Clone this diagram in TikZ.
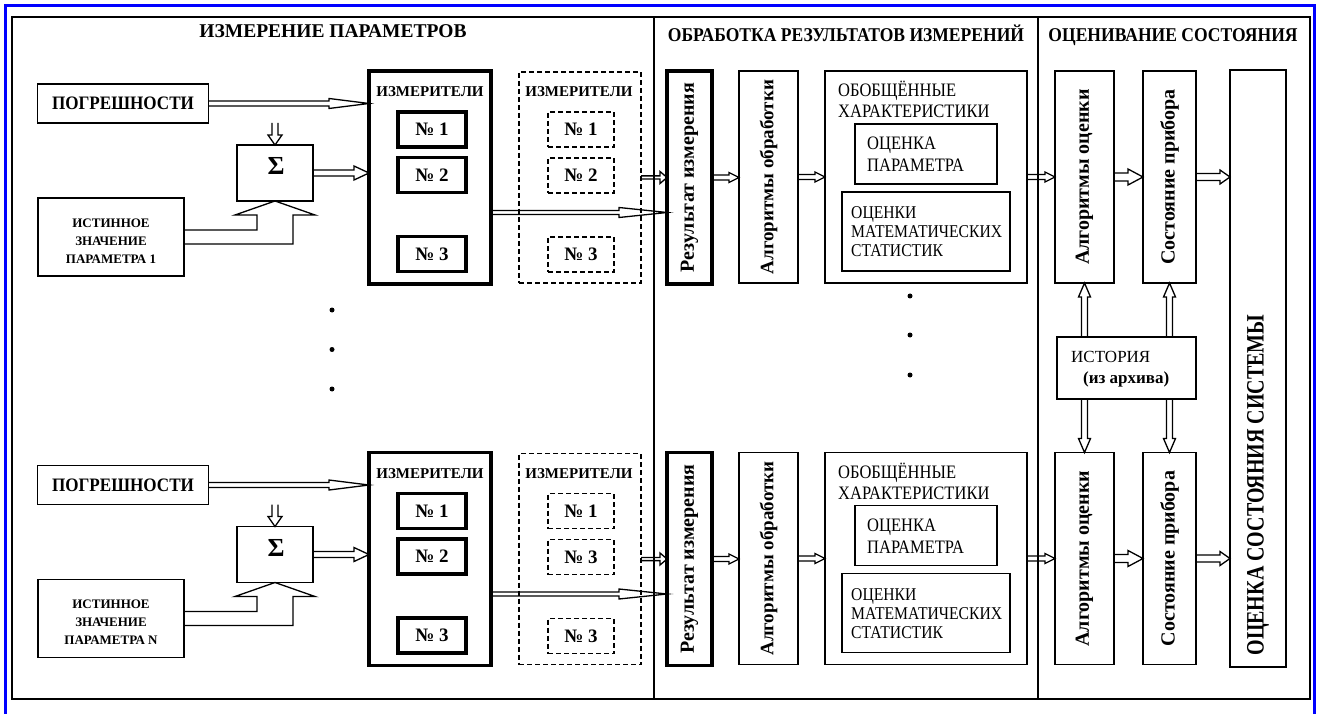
\documentclass[tikz,border=0pt]{standalone}
\usepackage{fontspec}
\setmainfont{Liberation Serif}
\newfontfamily\condA[FakeStretch=0.9]{Liberation Serif}
\newfontfamily\condB[FakeStretch=0.87]{Liberation Serif}
\newfontfamily\condC[FakeStretch=0.8]{Liberation Serif}
\usetikzlibrary{calc}

\newcommand\fTitA{\bfseries\fontsize{19.5}{22}\selectfont}
\newcommand\fTitB{\condA\bfseries\fontsize{19.5}{22}\selectfont}
\newcommand\fPog{\condA\bfseries\fontsize{19}{22}\selectfont}
\newcommand\fIst{\bfseries\fontsize{13}{18}\selectfont}
\newcommand\fIzm{\bfseries\fontsize{15}{18}\selectfont}
\newcommand\fNum{\bfseries\fontsize{19}{22}\selectfont}
\newcommand\fSig{\bfseries\fontsize{26}{30}\selectfont}
\newcommand\fReg{\condB\fontsize{19}{22}\selectfont}
\newcommand\fRegS{\condB\fontsize{18}{19}\selectfont}
\newcommand\fVert{\bfseries\fontsize{20}{24}\selectfont}
\newcommand\fVertS{\bfseries\fontsize{19}{24}\selectfont}
\newcommand\fSys{\condC\bfseries\fontsize{25}{28}\selectfont}
\newcommand\fHist{\fontsize{17}{20}\selectfont}
\newcommand\fHistB{\bfseries\fontsize{17}{20}\selectfont}

\tikzset{
  box/.style={draw, rectangle, line width=1.7pt, inner sep=0pt, outer sep=0pt},
  tbox/.style={box, line width=3.4pt},
  dbox/.style={box, dash pattern=on 5pt off 3pt},
  arr/.style={draw, line width=1.3pt, line join=miter},
  vtext/.style={rotate=90, font=\fVert, inner sep=0pt},
  lbl/.style={inner sep=0pt},
  lblw/.style={inner sep=0pt, anchor=base west},
  dot/.style={circle, fill, inner sep=0pt, minimum size=5pt},
}

% hollow arrows: from #1 to #2, shaft half-width #3, head half-width #4, head length #5
\newcommand\arR[5]{\draw[arr] let \p1=(#1), \p2=(#2) in
  (\x1,\y1+#3) -- (\x2-#5,\y1+#3) -- (\x2-#5,\y1+#4) -- (\x2,\y1)
  -- (\x2-#5,\y1-#4) -- (\x2-#5,\y1-#3) -- (\x1,\y1-#3);}
\newcommand\arD[5]{\draw[arr] let \p1=(#1), \p2=(#2) in
  (\x1-#3,\y1) -- (\x1-#3,\y2+#5) -- (\x1-#4,\y2+#5) -- (\x1,\y2)
  -- (\x1+#4,\y2+#5) -- (\x1+#3,\y2+#5) -- (\x1+#3,\y1);}
\newcommand\arU[5]{\draw[arr] let \p1=(#1), \p2=(#2) in
  (\x1-#3,\y1) -- (\x1-#3,\y2-#5) -- (\x1-#4,\y2-#5) -- (\x1,\y2)
  -- (\x1+#4,\y2-#5) -- (\x1+#3,\y2-#5) -- (\x1+#3,\y1);}

% left block: #1 suffix, #2 y offset, #3 parameter label, #4 middle dashed label
\newcommand\measrow[4]{%
  \node[box, minimum width=171pt, minimum height=39pt, font=\fPog] (pog#1) at (123,{103.5+#2}) {ПОГРЕШНОСТИ};
  \node[box, minimum width=76pt, minimum height=56pt] (sig#1) at (275,{173+#2}) {};
  \node[lbl, font=\fSig] (sigt#1) at (276,{166+#2}) {Σ};
  \node[box, minimum width=146pt, minimum height=78pt] (ist#1) at (111,{237+#2}) {};
  \node[lbl, align=center, font=\fIst] (istt#1) at (111,{241+#2}) {ИСТИННОЕ\\ЗНАЧЕНИЕ\\ПАРАМЕТРА #3};
  \node[tbox, minimum width=122pt, minimum height=213pt] (izm#1) at (430,{177.5+#2}) {};
  \node[lbl, font=\fIzm] (izmt#1) at (430,{92+#2}) {ИЗМЕРИТЕЛИ};
  \node[tbox, minimum width=68pt, minimum height=35pt, font=\fNum] (na#1) at (432,{129.5+#2}) {№ 1};
  \node[tbox, minimum width=68pt, minimum height=35pt, font=\fNum] (nb#1) at (432,{175+#2}) {№ 2};
  \node[tbox, minimum width=68pt, minimum height=35pt, font=\fNum] (nc#1) at (432,{254+#2}) {№ 3};
  \node[dbox, minimum width=122pt, minimum height=211pt] (dz#1) at (580,{177.5+#2}) {};
  \node[lbl, font=\fIzm] (dzt#1) at (579,{92+#2}) {ИЗМЕРИТЕЛИ};
  \node[dbox, minimum width=66pt, minimum height=35pt, font=\fNum] (da#1) at (581,{129.5+#2}) {№ 1};
  \node[dbox, minimum width=66pt, minimum height=35pt, font=\fNum] (db#1) at (581,{175.5+#2}) {№ #4};
  \node[dbox, minimum width=66pt, minimum height=35pt, font=\fNum] (dc#1) at (581,{254.5+#2}) {№ 3};
  \coordinate (mo#1) at ([yshift=-35pt]izm#1.east);
}

% right blocks: #1 suffix, #2 y offset
\newcommand\procrow[2]{%
  \node[tbox, minimum width=45pt, minimum height=213pt] (res#1) at (689.5,{177.5+#2}) {};
  \node[vtext] (rest#1) at (res#1.center) {Результат измерения};
  \node[box, minimum width=59pt, minimum height=212pt] (alg#1) at (768.5,{177+#2}) {};
  \node[vtext, font=\fVertS] (algt#1) at (alg#1.center) {Алгоритмы обработки};
  \node[box, minimum width=202pt, minimum height=212pt] (gen#1) at (926,{177+#2}) {};
  \node[lblw, font=\fReg] (genla#1) at (838,{97+#2}) {ОБОБЩЁННЫЕ};
  \node[lblw, font=\fReg] (genlb#1) at (838,{118+#2}) {ХАРАКТЕРИСТИКИ};
  \node[box, minimum width=142pt, minimum height=60pt] (op#1) at (926,{154+#2}) {};
  \node[lblw, font=\fReg] (opla#1) at (867,{150+#2}) {ОЦЕНКА};
  \node[lblw, font=\fReg] (oplb#1) at (867,{172+#2}) {ПАРАМЕТРА};
  \node[box, minimum width=168pt, minimum height=79pt] (om#1) at (926,{231.5+#2}) {};
  \node[lblw, font=\fRegS] (omla#1) at (851,{219+#2}) {ОЦЕНКИ};
  \node[lblw, font=\fRegS] (omlb#1) at (851,{238+#2}) {МАТЕМАТИЧЕСКИХ};
  \node[lblw, font=\fRegS] (omlc#1) at (851,{257+#2}) {СТАТИСТИК};
  \node[box, minimum width=59pt, minimum height=212pt] (ao#1) at (1084.5,{177+#2}) {};
  \node[vtext] (aot#1) at (ao#1.center) {Алгоритмы оценки};
  \node[box, minimum width=53pt, minimum height=212pt] (st#1) at (1169.5,{177+#2}) {};
  \node[vtext] (stt#1) at (st#1.center) {Состояние прибора};
}

% connectors of one row
\newcommand\rowarrows[1]{%
  \arR{pog#1.east}{pog#1.east -| izm#1.west}{2.5pt}{5pt}{40pt}
  \arD{sig#1.north |- pog#1.south}{sig#1.north}{3pt}{7pt}{10pt}
  \arR{sig#1.east}{sig#1.east -| izm#1.west}{3pt}{7pt}{15pt}
  \draw[arr] let \p1=(ist#1.east), \p2=(sig#1.south) in
    (\x1,\y1+7pt) -- (\x2-18pt,\y1+7pt) -- (\x2-18pt,\y2-14pt) -- (\x2-40pt,\y2-14pt)
    -- (\x2,\y2) -- (\x2+40pt,\y2-14pt) -- (\x2+18pt,\y2-14pt) -- (\x2+18pt,\y1-7pt) -- (\x1,\y1-7pt);
  \arR{mo#1}{mo#1 -| res#1.west}{2pt}{5pt}{48pt}
  \arR{dz#1.east}{dz#1.east -| res#1.west}{1.6pt}{6pt}{7pt}
  \arR{res#1.east}{res#1.east -| alg#1.west}{2.5pt}{5pt}{10pt}
  \arR{alg#1.east}{alg#1.east -| gen#1.west}{2.5pt}{5pt}{10pt}
  \arR{gen#1.east}{gen#1.east -| ao#1.west}{2.5pt}{5pt}{10pt}
  \arR{ao#1.east}{ao#1.east -| st#1.west}{4pt}{8pt}{15pt}
  \arR{st#1.east}{st#1.east -| sys.west}{3.5pt}{7pt}{10pt}
}

\begin{document}
\begin{tikzpicture}[x=1pt, y=-1pt]
\useasboundingbox (0,0) rectangle (1318,714);
\fill[white] (0,0) rectangle (1318,714);
% frames
\draw[blue, line width=3pt] (5.5,714) -- (5.5,5.5) -- (1314.5,5.5) -- (1314.5,714);
\draw[line width=1.6pt] (12,17) rectangle (1310,699);
\draw[line width=1.4pt] (654,17) -- (654,699);
\draw[line width=1.4pt] (1038,17) -- (1038,699);
% titles
\node[lbl, anchor=base, font=\fTitA] (tit1) at (333,38) {ИЗМЕРЕНИЕ ПАРАМЕТРОВ};
\node[lbl, anchor=base, font=\fTitB] (tit2) at (846,42) {ОБРАБОТКА РЕЗУЛЬТАТОВ ИЗМЕРЕНИЙ};
\node[lbl, anchor=base, font=\fTitB] (tit3) at (1173,42) {ОЦЕНИВАНИЕ СОСТОЯНИЯ};
% system box
\node[box, minimum width=56pt, minimum height=597pt] (sys) at (1258,368.5) {};
\node[lbl, rotate=90, font=\fSys] (syst) at (1258,485) {ОЦЕНКА СОСТОЯНИЯ СИСТЕМЫ};
% rows
\measrow{a}{0}{1}{2}
\measrow{b}{381.5}{N}{3}
\procrow{a}{0}
\procrow{b}{381.5}
\rowarrows{a}
\rowarrows{b}
% history
\node[box, minimum width=139pt, minimum height=62pt] (hist) at (1126.5,368) {};
\node[lblw, font=\fHist] (histt) at (1071,362) {ИСТОРИЯ};
\node[lblw, font=\fHistB] (histb) at (1083,383) {(из архива)};
\arU{aoa.south |- hist.north}{aoa.south}{3pt}{6pt}{14pt}
\arU{sta.south |- hist.north}{sta.south}{3pt}{6pt}{14pt}
\arD{aob.north |- hist.south}{aob.north}{3pt}{6pt}{14pt}
\arD{stb.north |- hist.south}{stb.north}{3pt}{6pt}{14pt}
% dots
\node[dot] (dl1) at (332,310) {};
\node[dot] (dl2) at (332,349.5) {};
\node[dot] (dl3) at (332,389) {};
\node[dot] (dm1) at (910,296) {};
\node[dot] (dm2) at (910,335) {};
\node[dot] (dm3) at (910,375) {};
\end{tikzpicture}
\end{document}
